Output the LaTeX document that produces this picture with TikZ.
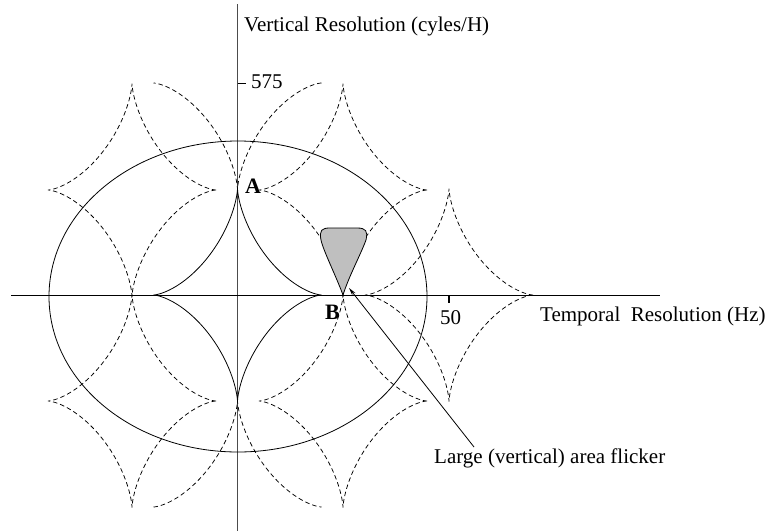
\documentclass[tikz,border=0pt]{standalone}
\usepackage{fontspec}
\setmainfont{Liberation Serif}
\usetikzlibrary{arrows.meta}
\begin{document}
\begin{tikzpicture}[x=1pt,y=-1pt,
  curve/.style={line width=0.8pt},
  dashcurve/.style={line width=0.75pt,dash pattern=on 4.5pt off 3pt},
  axislbl/.style={inner sep=0pt,font=\fontsize{21}{24}\selectfont},
  ptlbl/.style={inner sep=0pt,font=\fontsize{22}{24}\selectfont\bfseries}]
\useasboundingbox (0,0) rectangle (766,531);
\def\ax{84}\def\by{106.5}
% axes
\coordinate (vtop) at (237.5,4);
\coordinate (vbot) at (237.5,531);
\coordinate (hl) at (11,295);
\coordinate (hr) at (660,295);
\draw[line width=1pt,black!70] (vtop) -- (vbot);
\draw[line width=0.9pt] (hl) -- (hr);
% ellipse
\draw[curve] (238,296.5) ellipse [x radius=189, y radius=155.5];
% solid astroid
\draw[curve] plot[domain=0:360,samples=241,smooth] ({237.5+\ax*cos(\x)*cos(\x)*cos(\x)},{295+\by*sin(\x)*sin(\x)*sin(\x)});
% dashed astroids
\foreach \cx/\cy in {132/190,343/190,132/401,343/401,449/295}{
  \draw[dashcurve] plot[domain=0:360,samples=241,smooth] ({\cx+\ax*cos(\x)*cos(\x)*cos(\x)},{\cy+\by*sin(\x)*sin(\x)*sin(\x)});
}
\draw[dashcurve] plot[domain=0:180,samples=121,smooth] ({237.5+\ax*cos(\x)*cos(\x)*cos(\x)},{83+\by*sin(\x)*sin(\x)*sin(\x)});
\draw[dashcurve] plot[domain=180:360,samples=121,smooth] ({237.5+\ax*cos(\x)*cos(\x)*cos(\x)},{507+\by*sin(\x)*sin(\x)*sin(\x)});
% gray region
\draw[line width=0.8pt,fill=black!25] (343,295) .. controls (336,276) and (323,250) .. (321,240)
  .. controls (319,230) and (322,228) .. (330,228) -- (357,228)
  .. controls (366,228) and (368,231) .. (366,240)
  .. controls (360,256) and (349,276) .. (343,295) -- cycle;
% ticks
\coordinate (t575a) at (237.5,83);
\coordinate (t575b) at (246,83);
\draw[line width=0.8pt] (t575a) -- (t575b);
\coordinate (t50a) at (449,295);
\coordinate (t50b) at (449,303);
\draw[line width=1.2pt] (t50a) -- (t50b);
% labels
\node[axislbl,anchor=base west] (vlab) at (244,31.5) {Vertical Resolution (cyles/H)};
\node[axislbl,anchor=base west] (l575) at (251,88) {575};
\node[axislbl,anchor=base] (l50) at (450.5,324) {50};
\node[axislbl,anchor=base west] (hlab) at (540,321.5) {Temporal\ \ Resolution (Hz)};
\node[axislbl,anchor=base west] (flab) at (434,463) {Large (vertical) area flicker};
\node[ptlbl,anchor=base west] (A) at (245,193) {A};
\node[ptlbl,anchor=base west] (B) at (325,319) {B};
% arrow
\coordinate (arrs) at (474,447);
\coordinate (arre) at (349,288);
\draw[line width=0.8pt,-{Stealth[open,length=8pt,width=4pt]}] (arrs) -- (arre);
\end{tikzpicture}
\end{document}
